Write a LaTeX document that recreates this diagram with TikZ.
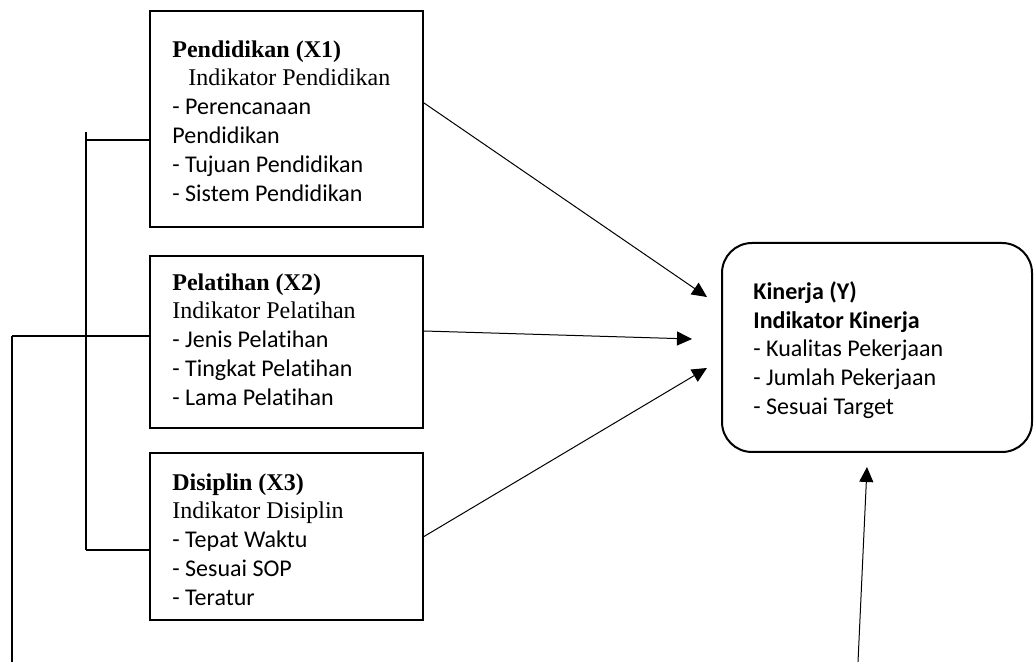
\documentclass[tikz,border=0pt]{standalone}
\usepackage{fontspec}
\setmainfont{Carlito}[Ligatures={NoCommon}]
\newfontfamily\tnr{Liberation Serif}
\usetikzlibrary{arrows.meta, positioning, calc}

\begin{document}
\begin{tikzpicture}[x=0.5pt, y=-0.5pt, >={Triangle[length=7.5pt, width=7pt]},
    box/.style={draw, line width=1pt, inner sep=0pt, minimum width=136.5pt},
    kinbox/.style={draw, line width=1pt, inner sep=0pt, rounded corners=15pt,
                   minimum width=155pt, minimum height=104.5pt},
    txt/.style={anchor=north west, inner sep=0pt, align=left,
                font=\fontsize{12}{14.4}\selectfont},
    conn/.style={line width=0.6pt},
    arr/.style={->, line width=0.5pt}]
  \useasboundingbox (0,0) rectangle (1034,662);

  % Variable boxes
  \node[box, minimum height=108pt] (X1) at (286.5,119) {};
  \node[box, minimum height=86pt] (X2) at (286.5,342) {};
  \node[box, minimum height=83.5pt] (X3) at (286.5,536.5) {};
  \node[kinbox] (Y) at (877,347.5) {};

  % Box texts
  \node[txt] (X1txt) at (172,40) {{\tnr\bfseries Pendidikan (X1)}\\
    \hspace*{8pt}{\tnr Indikator Pendidikan}\\
    - Perencanaan\\ Pendidikan\\ - Tujuan Pendidikan\\ - Sistem Pendidikan};
  \node[txt] (X2txt) at (172,273) {{\tnr\bfseries Pelatihan (X2)}\\
    {\tnr Indikator Pelatihan}\\
    - Jenis Pelatihan\\ - Tingkat Pelatihan\\ - Lama Pelatihan};
  \node[txt] (X3txt) at (172,473) {{\tnr\bfseries Disiplin (X3)}\\
    {\tnr Indikator Disiplin}\\
    - Tepat Waktu\\ - Sesuai SOP\\ - Teratur};
  \node[txt] (Ytxt) at (753,281) {\textbf{Kinerja (Y)}\\
    \textbf{Indikator Kinerja}\\
    - Kualitas Pekerjaan\\ - Jumlah Pekerjaan\\ - Sesuai Target};

  % Left bracket
  \coordinate (brTop) at (86,132);
  \coordinate (b1) at (86,140);
  \coordinate (b3) at (86,550);
  \coordinate (c2) at (12,336);
  \coordinate (c2end) at (12,662);
  \draw[conn] (brTop) -- (b3);
  \draw[conn] (b1) -- (b1 -| X1.west);
  \draw[conn] (b3) -- (b3 -| X3.west);
  \draw[conn] (c2) -- (c2 -| X2.west);
  \draw[conn] (c2) -- (c2end);

  % Arrows to Kinerja
  \coordinate (t1) at (707,297);
  \coordinate (t2) at (692,339);
  \coordinate (t3) at (707,368);
  \coordinate (t4) at (867,467);
  \coordinate (s4) at (858,662);
  \draw[arr] ([yshift=8pt]X1.east) -- (t1);
  \draw[arr] ([yshift=5.5pt]X2.east) -- (t2);
  \draw[arr] (X3.east) -- (t3);
  \draw[arr] (s4) -- (t4);
\end{tikzpicture}
\end{document}
